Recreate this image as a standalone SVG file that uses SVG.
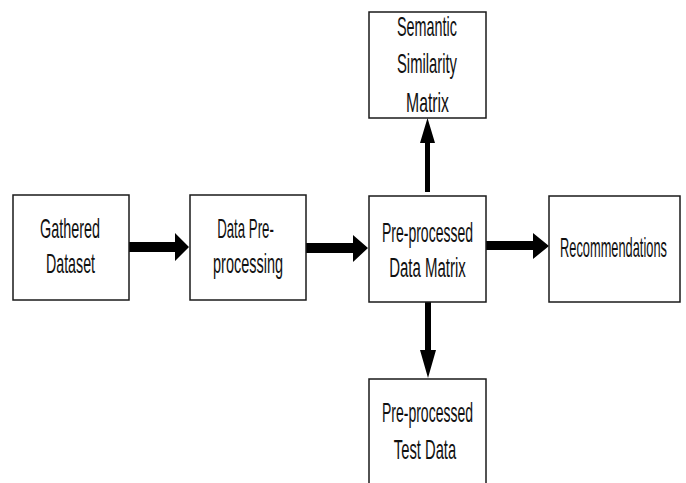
<svg xmlns="http://www.w3.org/2000/svg" width="686" height="483" viewBox="0 0 686 483">
<style>
.box{fill:#fff;stroke:#1a1a1a;stroke-width:1.5}
.t{font-family:"Liberation Sans",Arial,sans-serif;font-size:27px;fill:#111;text-anchor:middle}
.arr{fill:#000}
</style>
<rect width="686" height="483" fill="#fff"/>
<g id="connectors">
<polygon class="arr" points="129,242 175,242 175,233 189,247 175,261 175,252 129,252"/>
<polygon class="arr" points="306,243 353,243 353,235 368,248 353,262 353,253 306,253"/>
<polygon class="arr" points="486,241 533,241 533,233 549,246 533,259 533,250 486,250"/>
<polygon class="arr" points="425,192 425,143 420,143 427.5,118 435,143 430,143 430,192"/>
<polygon class="arr" points="425,302 425,350 420,350 428,378 436,350 431,350 431,302"/>
</g>
<g id="gathered">
<rect class="box" x="13" y="195" width="116" height="105"/>
<text class="t" transform="translate(70,238) scale(0.533,1)">Gathered</text>
<text class="t" transform="translate(70.5,273) scale(0.527,1)">Dataset</text>
</g>
<g id="preprocessing">
<rect class="box" x="190" y="195" width="116" height="105"/>
<text class="t" transform="translate(245.5,238) scale(0.491,1)">Data Pre-</text>
<text class="t" transform="translate(248,273) scale(0.536,1)">processing</text>
</g>
<g id="datamatrix">
<rect class="box" x="369" y="196" width="117" height="106"/>
<text class="t" transform="translate(427.5,242) scale(0.519,1)">Pre-processed</text>
<text class="t" transform="translate(427.5,277) scale(0.556,1)">Data Matrix</text>
</g>
<g id="recommendations">
<rect class="box" x="549" y="196" width="131" height="106"/>
<text class="t" transform="translate(613.5,257) scale(0.475,1)">Recommendations</text>
</g>
<g id="semantic">
<rect class="box" x="369" y="12" width="117" height="106"/>
<text class="t" transform="translate(427,36) scale(0.533,1)">Semantic</text>
<text class="t" transform="translate(427,73) scale(0.548,1)">Similarity</text>
<text class="t" transform="translate(427.5,112) scale(0.585,1)">Matrix</text>
</g>
<g id="testdata">
<rect class="box" x="369" y="379" width="117" height="115"/>
<text class="t" transform="translate(427.5,422) scale(0.519,1)">Pre-processed</text>
<text class="t" transform="translate(425,459) scale(0.546,1)">Test Data</text>
</g>
</svg>
